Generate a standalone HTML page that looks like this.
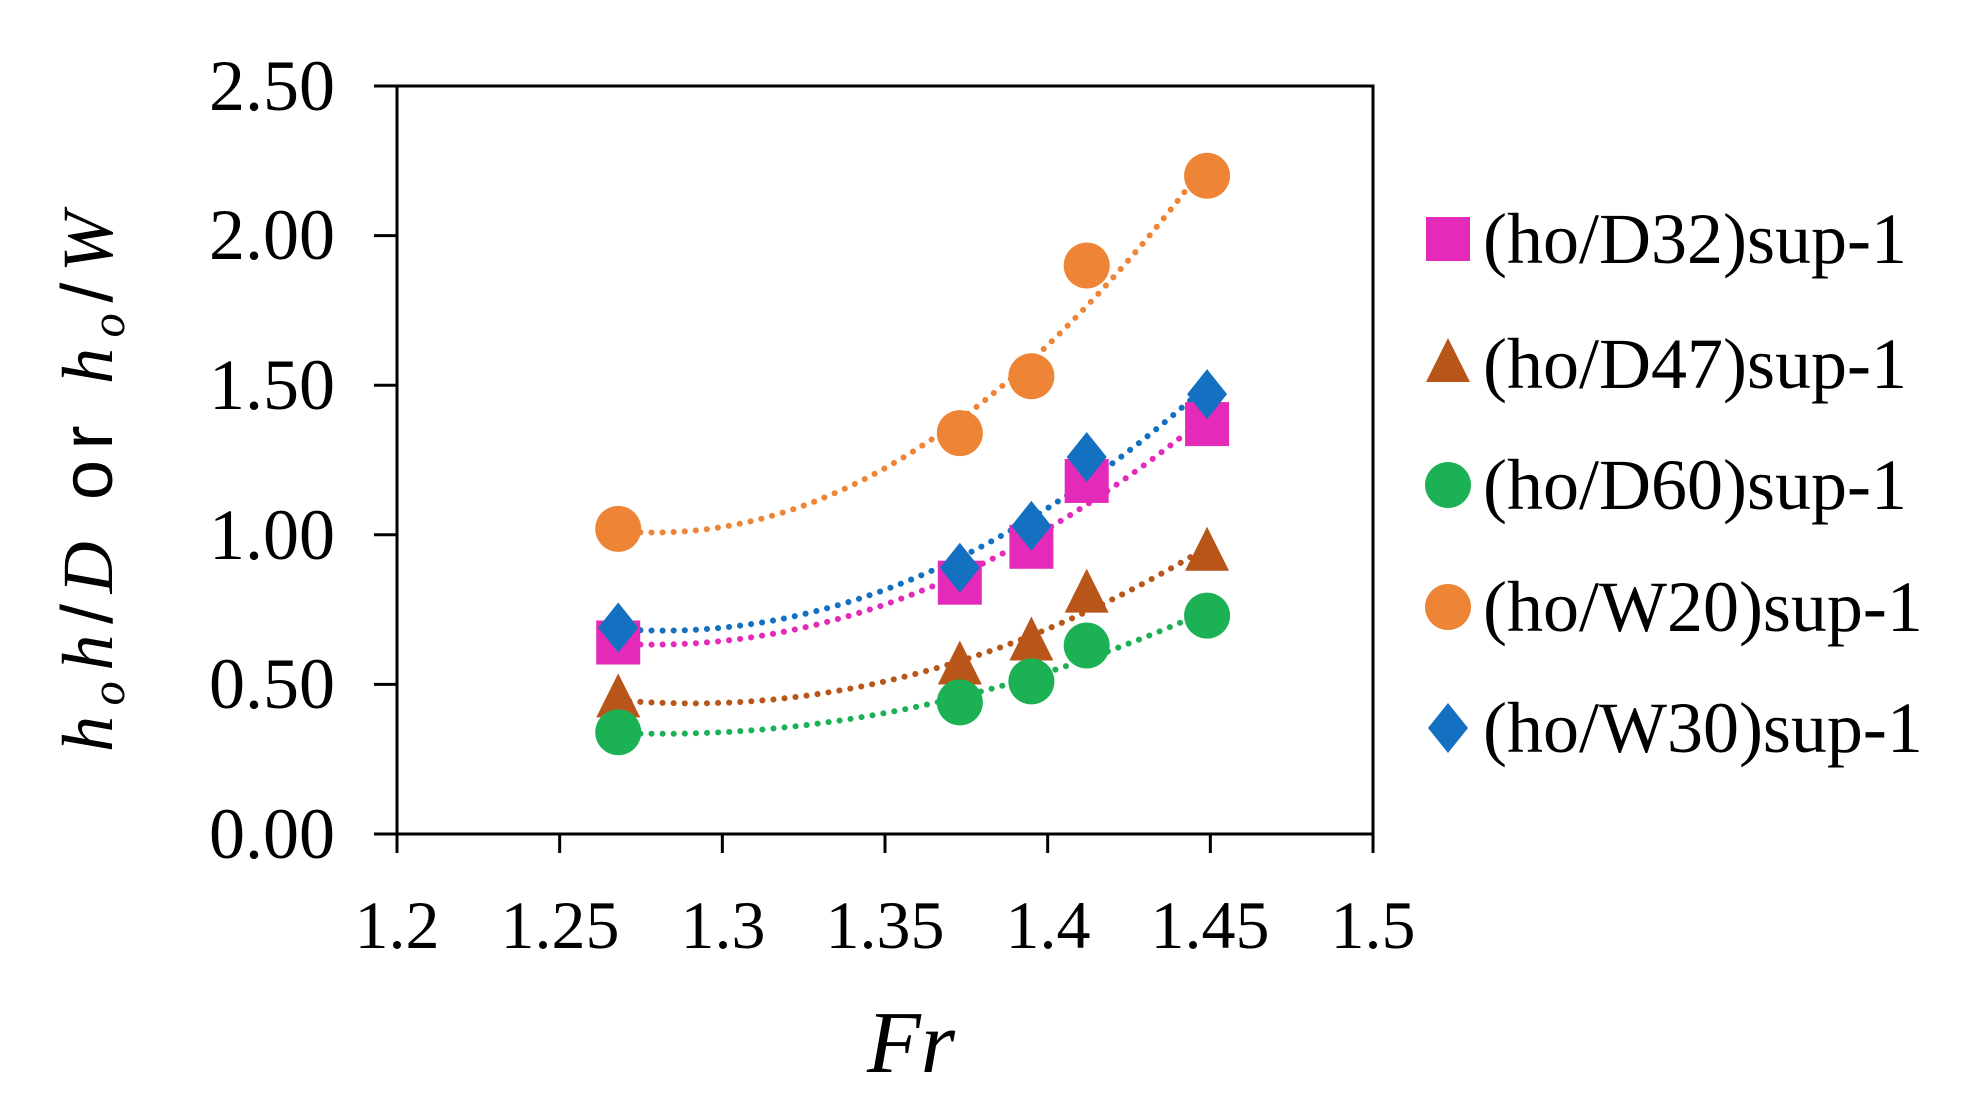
<!DOCTYPE html>
<html><head><meta charset="utf-8"><style>
html,body{margin:0;padding:0;background:#fff;width:1979px;height:1105px;overflow:hidden}
</style></head><body>
<svg id="s" width="1979" height="1105" xmlns="http://www.w3.org/2000/svg" font-family="Liberation Serif, serif">
<rect width="1979" height="1105" fill="#fff"/>
<g id="plot"></g>
<rect x="397" y="86" width="976" height="748" fill="none" stroke="#000" stroke-width="3"/>
<g id="ax" stroke="#000" stroke-width="3"></g>
<g font-size="72" text-anchor="end" fill="#000">
<text x="335" y="110">2.50</text><text x="335" y="259">2.00</text><text x="335" y="409">1.50</text>
<text x="335" y="559">1.00</text><text x="335" y="708">0.50</text><text x="335" y="858">0.00</text>
</g>
<g font-size="68" text-anchor="middle" fill="#000">
<text x="397" y="948">1.2</text><text x="560" y="948">1.25</text><text x="723" y="948">1.3</text>
<text x="885" y="948">1.35</text><text x="1048" y="948">1.4</text><text x="1210" y="948">1.45</text><text x="1373" y="948">1.5</text>
</g>
<text x="911" y="1072" font-size="88" font-style="italic" text-anchor="middle">Fr</text>
<text transform="translate(112,482) rotate(-90)" font-size="72" text-anchor="middle" textLength="540" lengthAdjust="spacing"><tspan font-style="italic">h</tspan><tspan font-size="48" dy="12" font-style="italic">o</tspan><tspan dy="-12" font-style="italic">h</tspan><tspan font-family="Liberation Sans, sans-serif">/</tspan><tspan font-style="italic">D</tspan><tspan font-family="Liberation Sans, sans-serif"> or </tspan><tspan font-style="italic">h</tspan><tspan font-size="48" dy="12" font-style="italic">o</tspan><tspan dy="-12" font-family="Liberation Sans, sans-serif">/</tspan><tspan font-style="italic">W</tspan></text>
<g id="leg" font-size="72" fill="#000"></g>
</svg>
<script>
const X=v=>397+(v-1.2)*3253.3, Y=v=>834-v*299.2;
const xs=[1.268,1.373,1.395,1.412,1.449];
const S=[
 {n:"(ho/D32)sup-1",c:"#E42AB8",m:"sq",d:[0.64,0.84,0.96,1.18,1.37]},
 {n:"(ho/D47)sup-1",c:"#B8561A",m:"tri",d:[0.45,0.56,0.64,0.80,0.94]},
 {n:"(ho/D60)sup-1",c:"#1DB156",m:"ci",d:[0.34,0.44,0.51,0.63,0.73]},
 {n:"(ho/W20)sup-1",c:"#EE8536",m:"ci",d:[1.02,1.34,1.53,1.90,2.20]},
 {n:"(ho/W30)sup-1",c:"#1470C0",m:"dia",d:[0.69,0.89,1.03,1.26,1.47]}];
const NS="http://www.w3.org/2000/svg";
function el(p,t,a){const e=document.createElementNS(NS,t);for(const k in a)e.setAttribute(k,a[k]);p.appendChild(e);return e;}
function mk(p,m,x,y,c){
 if(m=="sq")el(p,"rect",{x:x-22,y:y-22,width:44,height:44,fill:c});
 else if(m=="ci")el(p,"circle",{cx:x,cy:y,r:23,fill:c});
 else if(m=="tri")el(p,"polygon",{points:`${x},${y-26} ${x+22},${y+18} ${x-22},${y+18}`,fill:c});
 else el(p,"polygon",{points:`${x},${y-25} ${x+20},${y} ${x},${y+25} ${x-20},${y}`,fill:c});
}
function fit(d){
 let M=[[0,0,0],[0,0,0],[0,0,0]],b=[0,0,0];
 xs.forEach((x,i)=>{const u=x-1.35,p=[1,u,u*u];for(let r=0;r<3;r++){b[r]+=p[r]*d[i];for(let c=0;c<3;c++)M[r][c]+=p[r]*p[c];}});
 for(let i=0;i<3;i++){for(let j=i+1;j<3;j++){const f=M[j][i]/M[i][i];for(let k=0;k<3;k++)M[j][k]-=f*M[i][k];b[j]-=f*b[i];}}
 const a=[0,0,0];for(let i=2;i>=0;i--){let s=b[i];for(let k=i+1;k<3;k++)s-=M[i][k]*a[k];a[i]=s/M[i][i];}
 return x=>{const u=x-1.35;return a[0]+a[1]*u+a[2]*u*u;};
}
const P=document.getElementById("plot");
S.forEach(s=>{const f=fit(s.d);let pts=[];for(let x=1.268;x<=1.4491;x+=0.002)pts.push(X(x).toFixed(1)+","+Y(f(x)).toFixed(1));
 el(P,"polyline",{points:pts.join(" "),fill:"none",stroke:s.c,"stroke-width":6,"stroke-dasharray":"0.1 11","stroke-linecap":"round"});});
S.forEach(s=>xs.forEach((x,i)=>mk(P,s.m,X(x),Y(s.d[i]),s.c)));
const A=document.getElementById("ax");
for(let i=0;i<=6;i++){const x=397+i*162.67;el(A,"line",{x1:x,y1:834,x2:x,y2:853});}
for(let i=0;i<=5;i++){const y=834-i*149.6;el(A,"line",{x1:374,y1:y,x2:397,y2:y});}
const L=document.getElementById("leg");const ly=[239,364,485,607,728];
S.forEach((s,i)=>{mk(L,s.m,1448,ly[i],s.c);const t=el(L,"text",{x:1483,y:ly[i]+24});t.textContent=s.n;});
</script>
</body></html>
